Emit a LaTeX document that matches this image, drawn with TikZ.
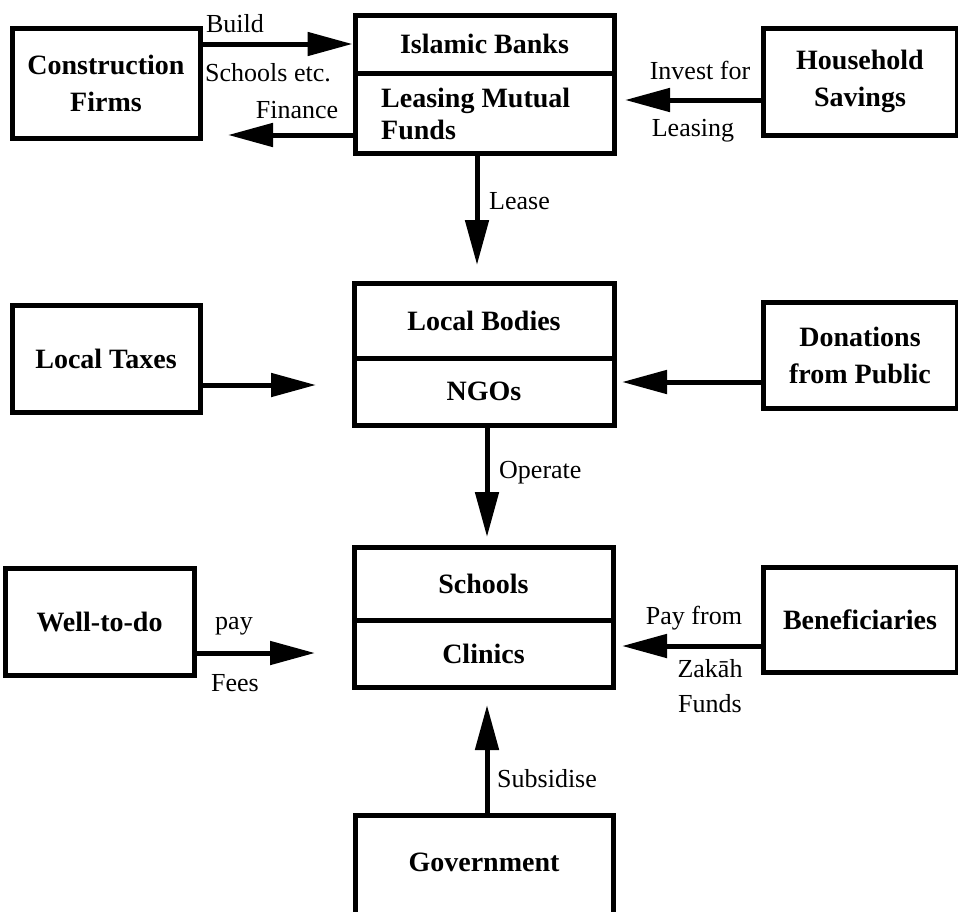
\documentclass[tikz,border=0pt]{standalone}
\usepackage{fontspec}
\setmainfont{Liberation Serif}
\usetikzlibrary{arrows.meta}
\begin{document}
\begin{tikzpicture}[x=1pt,y=-1pt,
  box/.style={draw, line width=5pt, inner sep=0pt, align=center,
    font=\fontsize{28}{37}\selectfont\bfseries},
  lbl/.style={inner sep=0pt, align=center, font=\fontsize{26}{35}\selectfont},
  arr/.style={line width=5pt, -{Triangle[length=45pt,width=23pt]}}]
\clip (0,0) rectangle (958,911);
\fill[white] (0,0) rectangle (958,911);

% ---- top row: construction, banks / funds, savings
\node[box, minimum width=188pt, minimum height=110pt] (cf) at (106,83) {Construction\\Firms};
\node[box, minimum width=259pt, minimum height=58pt] (ib) at (484.5,44) {Islamic Banks};
\node[box, minimum width=259pt, minimum height=80pt] (lmf) at (484.5,113) {};
\node[inner sep=0pt, align=left, anchor=west, font=\fontsize{28}{32}\selectfont\bfseries] (lmft) at (381,114) {Leasing Mutual\\Funds};
\node[box, minimum width=194pt, minimum height=107pt] (hs) at (860,81.5) {Household\\Savings};

% ---- middle row: local taxes, local bodies / NGOs, donations
\node[box, minimum width=188pt, minimum height=107pt] (lt) at (106,358.5) {Local Taxes};
\node[box, minimum width=260pt, minimum height=75pt] (lb) at (484,320.5) {Local Bodies};
\node[box, minimum width=260pt, minimum height=67pt] (ngo) at (484,391.5) {NGOs};
\node[box, minimum width=194pt, minimum height=106pt] (dp) at (860,355) {Donations\\from Public};

% ---- lower row: well-to-do, schools / clinics, beneficiaries
\node[box, minimum width=189pt, minimum height=107pt] (wd) at (99.5,621.5) {Well-to-do};
\node[box, minimum width=259pt, minimum height=73pt] (sc) at (483.5,583.5) {Schools};
\node[box, minimum width=259pt, minimum height=67pt] (cl) at (483.5,653.5) {Clinics};
\node[box, minimum width=194pt, minimum height=105pt] (bn) at (860,619.5) {Beneficiaries};

% ---- bottom: government (runs off the lower edge)
\node[box, minimum width=258pt, minimum height=115pt] (gov) at (484,872.5) {};
\node[inner sep=0pt, font=\fontsize{28}{32}\selectfont\bfseries] (govt) at (484,862) {Government};

% ---- free arrow tips
\coordinate (finTip) at (228,135);
\coordinate (invTip) at (625,100);
\coordinate (leaseTip) at (477,265);
\coordinate (ltTip) at (316,385);
\coordinate (dpTip) at (622,382);
\coordinate (opTip) at (487,537);
\coordinate (payTip) at (315,653);
\coordinate (zkTip) at (622,646);
\coordinate (subTip) at (487,705);

% ---- connectors
\draw[arr] (cf.east |- ib.west) -- (ib.west);
\draw[arr] (lmf.west |- finTip) -- (finTip);
\draw[arr] (hs.west |- invTip) -- (invTip);
\draw[arr] (lmf.south -| leaseTip) -- (leaseTip);
\draw[arr] (lt.east |- ltTip) -- (ltTip);
\draw[arr] (dp.west |- dpTip) -- (dpTip);
\draw[arr] (ngo.south -| opTip) -- (opTip);
\draw[arr] (wd.east |- payTip) -- (payTip);
\draw[arr] (bn.west |- zkTip) -- (zkTip);
\draw[arr] (gov.north -| subTip) -- (subTip);

% ---- connector labels
\node[lbl] (lBuild) at (235,24) {Build};
\node[lbl, anchor=west] (lSchools) at (205,73) {Schools etc.};
\node[lbl] (lFin) at (297,110) {Finance};
\node[lbl] (lInv) at (700,70) {Invest for};
\node[lbl] (lLeasing) at (693,131) {Leasing};
\node[lbl, anchor=west] (lLease) at (489,201) {Lease};
\node[lbl, anchor=west] (lOp) at (499,473) {Operate};
\node[lbl] (lPay) at (234,626) {pay};
\node[lbl] (lFees) at (235,683) {Fees};
\node[lbl] (lPayFrom) at (694,618) {Pay from};
\node[lbl] (lZakah) at (710,686) {Zakāh\\Funds};
\node[lbl, anchor=west] (lSub) at (497,779) {Subsidise};
\end{tikzpicture}
\end{document}
